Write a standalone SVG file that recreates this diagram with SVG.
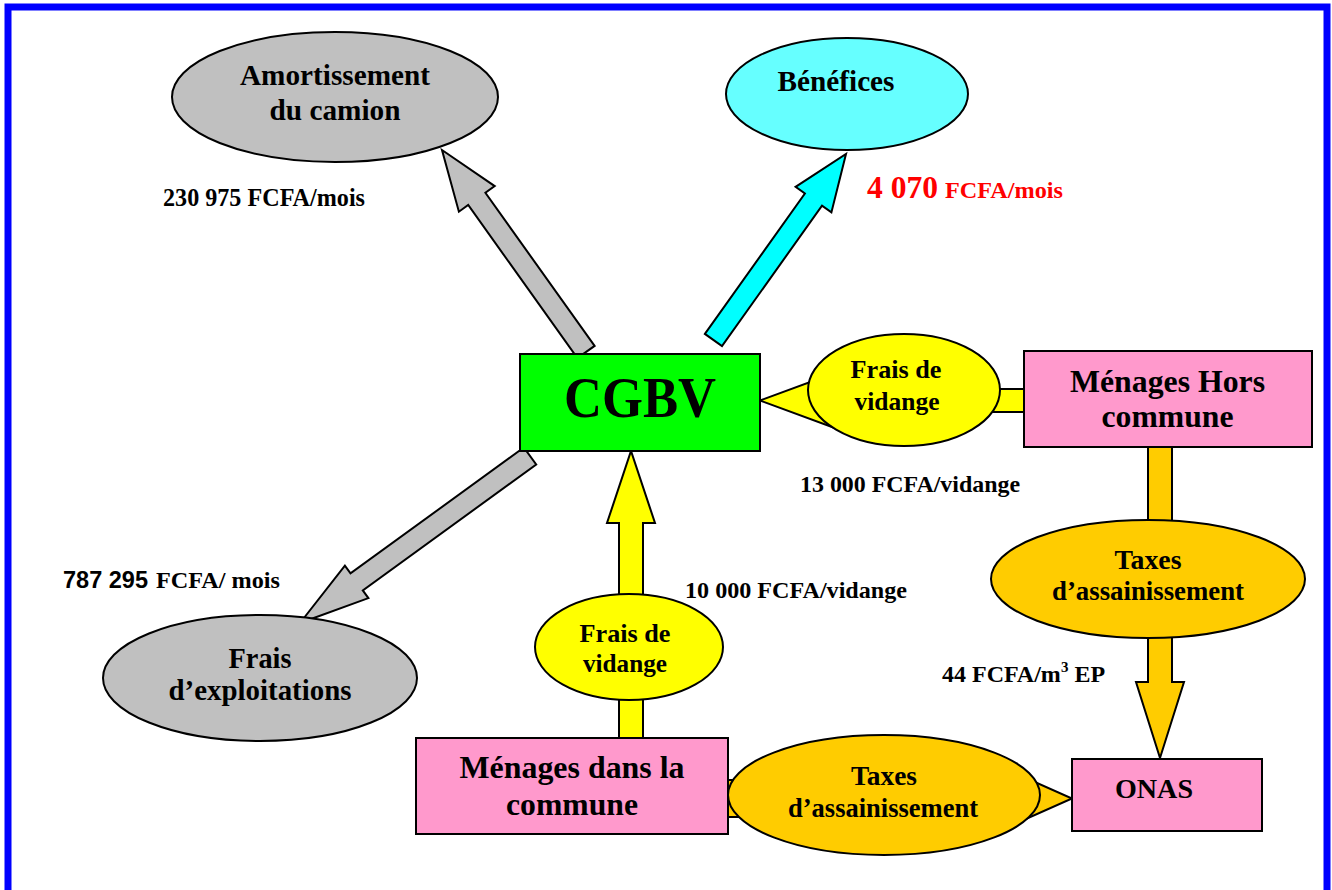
<svg xmlns="http://www.w3.org/2000/svg" width="1332" height="890" viewBox="0 0 1332 890">
<style>
.t{font-family:"Liberation Serif","Times New Roman",serif;font-weight:bold;fill:#000;text-anchor:middle}
.l{font-family:"Liberation Serif","Times New Roman",serif;font-weight:bold;fill:#000}
.ls{font-family:"Liberation Sans",Arial,sans-serif;font-weight:bold;fill:#000}
.red{fill:#FF0000}
.ol{stroke:#000;stroke-width:2;stroke-linejoin:miter}
.gray{fill:#C0C0C0}
.yel{fill:#FFFF00}
.org{fill:#FFCC00}
.pink{fill:#FF99CC}
</style>
<rect x="0" y="0" width="1332" height="890" fill="#FFFFFF"/>
<rect x="8" y="7" width="1319" height="900" fill="none" stroke="#0000FF" stroke-width="7"/>

<g id="connectors">
  <polygon class="ol" fill="#00FFFF" points="704.9,333.9 804.9,193.5 795.6,186.8 846,154 831.4,212.4 822.0,205.7 722.0,346.1"/>
  <polygon class="ol gray" points="594.6,345.9 485.4,192.8 494.7,186.1 442,150 458.9,211.7 468.2,205.0 577.4,358.1"/>
  <polygon class="ol gray" points="523.8,447.5 350.5,573.4 344.9,565.7 300,623 368.4,598.1 362.8,590.4 536.2,464.5"/>
  <polygon class="ol yel" points="1026,389 851,389 851,367 760,400.5 851,434 851,412 1026,412"/>
  <polygon class="ol yel" points="619,740 619,523 607,523 631,451 655,523 643,523 643,740"/>
  <polygon class="ol org" points="1148,445 1148,682 1136,682 1160,758 1184,682 1172,682 1172,445"/>
  <polygon class="ol org" points="726,780 982,780 982,758.5 1072,798.5 982,838.5 982,817 726,817"/>
</g>

<g id="amortissement">
  <ellipse class="ol gray" cx="335" cy="97" rx="163" ry="65"/>
  <text class="t" x="335" y="85" font-size="29" textLength="190" lengthAdjust="spacingAndGlyphs">Amortissement</text>
  <text class="t" x="335" y="120" font-size="29" textLength="131" lengthAdjust="spacingAndGlyphs">du camion</text>
</g>
<g id="benefices">
  <ellipse class="ol" fill="#66FFFF" cx="847" cy="94" rx="121" ry="56"/>
  <text class="t" x="836" y="91" font-size="29" textLength="117" lengthAdjust="spacingAndGlyphs">Bénéfices</text>
</g>
<g id="cgbv">
  <rect class="ol" fill="#00FF00" x="520" y="354" width="240" height="97"/>
  <text class="t" x="640" y="417" font-size="56" textLength="152" lengthAdjust="spacingAndGlyphs">CGBV</text>
</g>
<g id="frais-vidange-hors">
  <ellipse class="ol yel" cx="904" cy="390" rx="96" ry="56"/>
  <text class="t" x="896" y="378" font-size="26" textLength="91" lengthAdjust="spacingAndGlyphs">Frais de</text>
  <text class="t" x="897" y="410" font-size="26" textLength="85" lengthAdjust="spacingAndGlyphs">vidange</text>
</g>
<g id="menages-hors">
  <rect class="ol pink" x="1024" y="351" width="288" height="96"/>
  <text class="t" x="1167.5" y="392" font-size="32" textLength="195" lengthAdjust="spacingAndGlyphs">Ménages Hors</text>
  <text class="t" x="1167.5" y="427" font-size="32" textLength="132" lengthAdjust="spacingAndGlyphs">commune</text>
</g>
<g id="taxes-hors">
  <ellipse class="ol org" cx="1148" cy="579" rx="157" ry="59"/>
  <text class="t" x="1148" y="569" font-size="27" textLength="67" lengthAdjust="spacingAndGlyphs">Taxes</text>
  <text class="t" x="1148" y="600" font-size="27" textLength="192" lengthAdjust="spacingAndGlyphs">d’assainissement</text>
</g>
<g id="onas">
  <rect class="ol pink" x="1072" y="759" width="190" height="72"/>
  <text class="t" x="1154" y="798" font-size="28" textLength="78" lengthAdjust="spacingAndGlyphs">ONAS</text>
</g>
<g id="taxes-commune">
  <ellipse class="ol org" cx="884" cy="795" rx="156" ry="60"/>
  <text class="t" x="884" y="785" font-size="27" textLength="66" lengthAdjust="spacingAndGlyphs">Taxes</text>
  <text class="t" x="883" y="817" font-size="27" textLength="190" lengthAdjust="spacingAndGlyphs">d’assainissement</text>
</g>
<g id="menages-commune">
  <rect class="ol pink" x="416" y="738" width="312" height="96"/>
  <text class="t" x="572" y="778" font-size="32" textLength="225" lengthAdjust="spacingAndGlyphs">Ménages dans la</text>
  <text class="t" x="572" y="815" font-size="32" textLength="132" lengthAdjust="spacingAndGlyphs">commune</text>
</g>
<g id="frais-vidange-commune">
  <ellipse class="ol yel" cx="629" cy="647" rx="94" ry="53"/>
  <text class="t" x="625" y="642" font-size="26" textLength="91" lengthAdjust="spacingAndGlyphs">Frais de</text>
  <text class="t" x="625" y="672" font-size="26" textLength="84" lengthAdjust="spacingAndGlyphs">vidange</text>
</g>
<g id="frais-exploitations">
  <ellipse class="ol gray" cx="260" cy="678" rx="157" ry="63"/>
  <text class="t" x="260" y="668" font-size="29" textLength="63" lengthAdjust="spacingAndGlyphs">Frais</text>
  <text class="t" x="260" y="700" font-size="29" textLength="183" lengthAdjust="spacingAndGlyphs">d’exploitations</text>
</g>

<g id="labels">
  <text class="l" x="163" y="206" font-size="26" textLength="202" lengthAdjust="spacingAndGlyphs">230 975 FCFA/mois</text>
  <text class="l red" x="867" y="198" font-size="32" textLength="71" lengthAdjust="spacingAndGlyphs">4 070</text>
  <text class="l red" x="945" y="198" font-size="24" textLength="118" lengthAdjust="spacingAndGlyphs">FCFA/mois</text>
  <text class="l" x="800" y="492" font-size="24" textLength="220" lengthAdjust="spacingAndGlyphs">13 000 FCFA/vidange</text>
  <text class="l" x="685" y="598" font-size="24" textLength="222" lengthAdjust="spacingAndGlyphs">10 000 FCFA/vidange</text>
  <text class="l" x="942" y="682" font-size="24">44 FCFA/m<tspan font-size="15" dy="-10">3</tspan><tspan dy="10"> EP</tspan></text>
  <text class="ls" x="63" y="588" font-size="24" textLength="85" lengthAdjust="spacingAndGlyphs">787 295</text>
  <text class="l" x="156" y="588" font-size="24" textLength="124" lengthAdjust="spacingAndGlyphs">FCFA/ mois</text>
</g>
</svg>
